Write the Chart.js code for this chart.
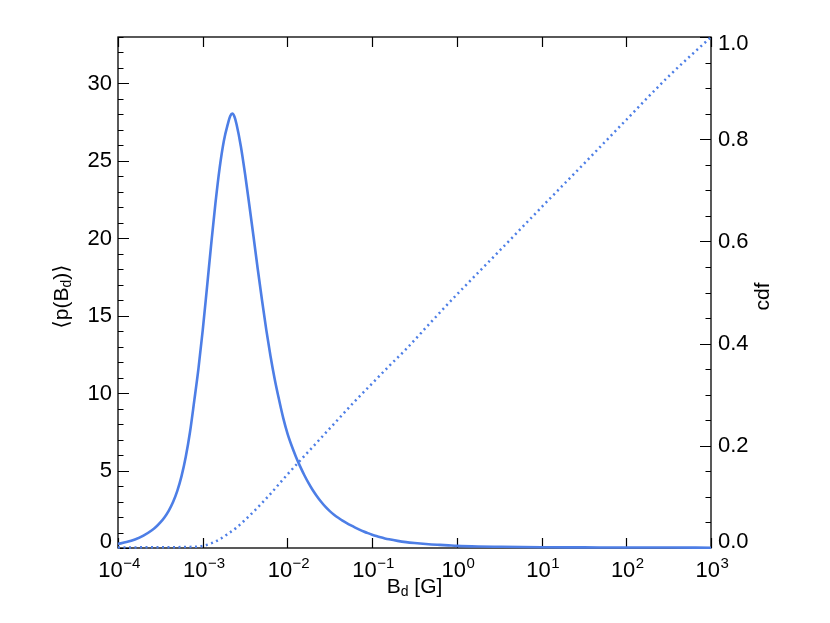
<!DOCTYPE html>
<html>
<head>
<meta charset="utf-8">
<script src="https://cdn.jsdelivr.net/npm/chart.js@4.4.1/dist/chart.umd.min.js"></script>
<style>
  html, body { margin: 0; padding: 0; background: #fff; }
  canvas { display: block; }
</style>
</head>
<body>
<canvas id="chart" width="830" height="623"></canvas>
<script>
// ========== DATOS ==========
// pdf: log10(B_d) y valor medio de la densidad
const pdfLogB = [-4.0, -3.9, -3.8, -3.7, -3.6, -3.55, -3.5, -3.45, -3.4, -3.35, -3.3, -3.25, -3.2, -3.15,
    -3.1, -3.05, -3.0, -2.95, -2.9, -2.85, -2.8, -2.75, -2.7, -2.675, -2.65, -2.625, -2.6, -2.55, -2.5,
    -2.45, -2.4, -2.35, -2.3, -2.25, -2.2, -2.15, -2.1, -2.05, -2.0, -1.95, -1.9, -1.85, -1.8, -1.75,
    -1.7, -1.65, -1.6, -1.55, -1.5, -1.45, -1.4, -1.35, -1.3, -1.25, -1.2, -1.15, -1.1, -1.05, -1.0,
    -0.95, -0.9, -0.85, -0.8, -0.7, -0.6, -0.5, -0.4, -0.3, -0.2, -0.1, 0.0, 0.25, 0.5, 1.0, 1.5, 2.0,
    2.5, 3.0];
const pdfValues = [0.26, 0.38, 0.55, 0.8, 1.15, 1.37, 1.65, 1.99, 2.42, 2.97, 3.69, 4.64, 5.89, 7.49,
    9.5, 11.6, 14.05, 16.8, 19.6, 22.25, 24.55, 26.3, 27.45, 27.9, 28.05, 27.85, 27.35, 25.95, 24.15,
    22.15, 20.1, 18.0, 16.0, 14.1, 12.4, 10.9, 9.6, 8.4, 7.4, 6.6, 5.9, 5.27, 4.7, 4.19,
    3.73, 3.33, 2.97, 2.65, 2.38, 2.15, 1.95, 1.77, 1.61, 1.46, 1.32, 1.19, 1.07, 0.96, 0.86,
    0.77, 0.69, 0.62, 0.56, 0.46, 0.38, 0.32, 0.27, 0.23, 0.2, 0.17, 0.14, 0.1, 0.08, 0.05, 0.04, 0.03,
    0.03, 0.02];

// cdf: log10(B_d) y función de distribución acumulada
const cdfLogB = [-4.0, -3.5, -3.2, -3.0, -2.9, -2.8, -2.7, -2.6, -2.5, -2.4, -2.3, -2.2, -2.1, -2.0,
    -1.8, -1.6, -1.4, -1.2, -1.0, -0.8, -0.6, -0.3, 0.0, 0.5, 1.0, 1.5, 2.0, 2.5, 3.0];
const cdfValues = [0.001, 0.0015, 0.002, 0.004, 0.009, 0.017, 0.028, 0.04, 0.055, 0.071, 0.088, 0.106, 0.125, 0.144,
    0.18, 0.216, 0.252, 0.288, 0.322, 0.356, 0.389, 0.443, 0.496, 0.581, 0.667, 0.752, 0.838, 0.923, 1.0];

// ticks
const xExponents = [-4, -3, -2, -1, 0, 1, 2, 3];
const leftTicks = [0, 5, 10, 15, 20, 25, 30];
const leftMinorStep = 1;
const rightTicks = [0.0, 0.2, 0.4, 0.6, 0.8, 1.0];
const rightMinorStep = 0.05;

const BLUE = "#4d7ee6";
const FONT = '"Liberation Sans", Arial, "DejaVu Sans", sans-serif';

// ========== EJES Y ETIQUETAS ==========
const framePlugin = {
    id: "frame",
    beforeDatasetsDraw(chart) {
        const { ctx, chartArea: a, scales } = chart;
        ctx.save();
        ctx.strokeStyle = "#000";
        ctx.lineWidth = 1.3;
        ctx.strokeRect(a.left, a.top, a.right - a.left, a.bottom - a.top);

        ctx.lineWidth = 1.2;
        ctx.beginPath();
        // eje x (abajo y arriba)
        for (const e of xExponents) {
            const px = Math.round(scales.x.getPixelForValue(Math.pow(10, e))) + 0.5;
            ctx.moveTo(px, a.bottom); ctx.lineTo(px, a.bottom - 10);
            ctx.moveTo(px, a.top); ctx.lineTo(px, a.top + 10);
        }
        // eje izquierdo
        const yMax = scales.y.max;
        for (let i = 0; i * leftMinorStep <= yMax + 1e-9; i++) {
            const v = i * leftMinorStep;
            const py = Math.round(scales.y.getPixelForValue(v)) + 0.5;
            const len = leftTicks.includes(v) ? 11 : 5.5;
            ctx.moveTo(a.left, py); ctx.lineTo(a.left + len, py);
        }
        // eje derecho
        for (let i = 0; i * rightMinorStep <= 1 + 1e-9; i++) {
            const v = i * rightMinorStep;
            const py = Math.round(scales.y1.getPixelForValue(v)) + 0.5;
            const major = rightTicks.some(t => Math.abs(t - v) < 1e-9);
            ctx.moveTo(a.right, py); ctx.lineTo(a.right - (major ? 11 : 5.5), py);
        }
        ctx.stroke();
        ctx.restore();
    },
    afterDraw(chart) {
        const { ctx, chartArea: a, scales } = chart;
        ctx.save();
        ctx.fillStyle = "#000";

        // etiquetas x: 10^n
        for (const e of xExponents) {
            const px = scales.x.getPixelForValue(Math.pow(10, e));
            const base = "10";
            const sup = e < 0 ? "\u2212" + Math.abs(e) : String(e);
            ctx.font = "22px " + FONT;
            const wb = ctx.measureText(base).width;
            ctx.font = "15px " + FONT;
            const ws = ctx.measureText(sup).width;
            const x0 = px - (wb + ws) / 2 + 1;
            ctx.textAlign = "left";
            ctx.textBaseline = "alphabetic";
            ctx.font = "22px " + FONT;
            ctx.fillText(base, x0, 577);
            ctx.font = "15px " + FONT;
            ctx.fillText(sup, x0 + wb + 0.5, 567.5);
        }

        // etiquetas y izquierda
        ctx.font = "22px " + FONT;
        ctx.textBaseline = "middle";
        ctx.textAlign = "right";
        for (const v of leftTicks) {
            let py = scales.y.getPixelForValue(v);
            py = Math.min(Math.max(py + 0.5, a.top + 7), a.bottom - 6.5);
            ctx.fillText(String(v), a.left - 6, py);
        }
        // etiquetas y derecha
        ctx.textAlign = "left";
        for (const v of rightTicks) {
            let py = scales.y1.getPixelForValue(v);
            py = Math.min(Math.max(py + 0.5, a.top + 7), a.bottom - 6.5);
            ctx.fillText(v.toFixed(1), a.right + 7, py);
        }

        // títulos con subíndice
        const drawSub = (parts, cx, cy) => {
            let w = 0;
            for (const p of parts) { ctx.font = p.size + "px " + FONT; w += ctx.measureText(p.t).width; }
            let x = cx - w / 2;
            ctx.textAlign = "left";
            ctx.textBaseline = "alphabetic";
            for (const p of parts) {
                ctx.font = p.size + "px " + FONT;
                ctx.fillText(p.t, x, cy + (p.dy || 0));
                x += ctx.measureText(p.t).width;
            }
        };
        const midX = (a.left + a.right) / 2;
        const midY = (a.top + a.bottom) / 2;
        drawSub([{ t: "B", size: 21 }, { t: "d", size: 14, dy: 3 }, { t: " [G]", size: 21 }], midX, 593);

        // ⟨p(B_d)⟩
        ctx.save();
        ctx.translate(68, midY + 4);
        ctx.rotate(-Math.PI / 2);
        drawSub([{ t: "\u27E8p(B", size: 21 }, { t: "d", size: 14, dy: 3 }, { t: ")\u27E9", size: 21 }], 0, 0);
        ctx.restore();

        // cdf
        ctx.save();
        ctx.translate(769, midY + 4);
        ctx.rotate(-Math.PI / 2);
        drawSub([{ t: "cdf", size: 21 }], 0, 0);
        ctx.restore();

        ctx.restore();
    },
};

const toPoints = (logs, vals) => logs.map((l, i) => ({ x: Math.pow(10, l), y: vals[i] }));

new Chart(document.getElementById("chart").getContext("2d"), {
    type: "line",
    data: {
        datasets: [{
            label: "<p(B_d)>",
            data: toPoints(pdfLogB, pdfValues),
            yAxisID: "y",
            borderColor: BLUE,
            borderWidth: 2.6,
            pointRadius: 0,
            fill: false,
            cubicInterpolationMode: "monotone",
            clip: 4,
        }, {
            label: "cdf",
            data: toPoints(cdfLogB, cdfValues),
            yAxisID: "y1",
            borderColor: BLUE,
            borderWidth: 2.5,
            borderDash: [2, 3.5],
            pointRadius: 0,
            fill: false,
            cubicInterpolationMode: "monotone",
            clip: 4,
        }],
    },
    options: {
        responsive: false,
        animation: false,
        events: [],
        layout: { padding: { top: 37, left: 0, right: 0, bottom: 0 } },
        plugins: { legend: { display: false }, tooltip: { enabled: false } },
        scales: {
            x: {
                type: "logarithmic",
                position: "bottom",
                min: 1e-4,
                max: 1e3,
                ticks: { display: false },
                grid: { display: false },
                border: { display: false },
                afterFit: (s) => { s.height = 75; },
            },
            y: {
                position: "left",
                min: 0,
                max: 33,
                ticks: { display: false },
                grid: { display: false },
                border: { display: false },
                afterFit: (s) => { s.width = 118; },
            },
            y1: {
                position: "right",
                min: 0,
                max: 1,
                ticks: { display: false },
                grid: { display: false },
                border: { display: false },
                afterFit: (s) => { s.width = 119; },
            },
        },
    },
    plugins: [framePlugin],
});
</script>
</body>
</html>
